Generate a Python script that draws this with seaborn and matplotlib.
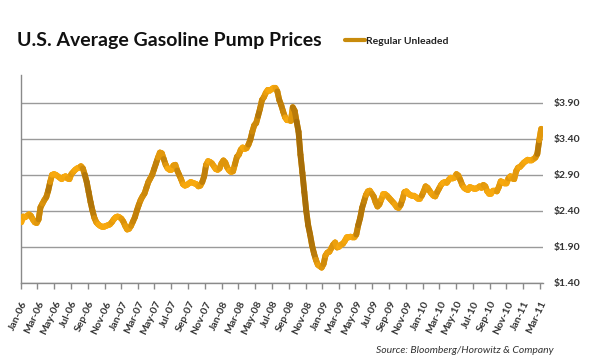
import numpy as np
import pandas as pd
import matplotlib
matplotlib.use("Agg")
import matplotlib.pyplot as plt
import matplotlib.dates as mdates
from matplotlib.collections import LineCollection
from matplotlib.colors import LinearSegmentedColormap
import seaborn as sns

# weekly regular unleaded price ($/gal), Mondays from 2 Jan 2006
prices_2006 = [2.24, 2.32, 2.31, 2.33, 2.35,
               2.33, 2.28, 2.24, 2.23,
               2.28, 2.45, 2.50, 2.55,
               2.59, 2.68, 2.80, 2.90,
               2.91, 2.90, 2.88, 2.86, 2.84,
               2.87, 2.88, 2.85, 2.84,
               2.91, 2.94, 2.97, 2.99, 3.00,
               3.02, 2.99, 2.90, 2.80,
               2.66, 2.52, 2.40, 2.30,
               2.24, 2.21, 2.19, 2.18, 2.18,
               2.19, 2.20, 2.21, 2.24,
               2.28, 2.31, 2.32, 2.31]
prices_2007 = [2.29, 2.25, 2.19, 2.14, 2.15,
               2.19, 2.25, 2.31, 2.40,
               2.48, 2.55, 2.60, 2.64,
               2.72, 2.80, 2.85, 2.90, 2.98,
               3.06, 3.14, 3.21, 3.20,
               3.12, 3.04, 2.99, 2.97,
               2.97, 3.03, 3.04, 2.96, 2.90,
               2.84, 2.77, 2.75, 2.76,
               2.78, 2.80, 2.79, 2.78,
               2.77, 2.74, 2.75, 2.80, 2.88,
               3.04, 3.09, 3.08, 3.06,
               3.02, 2.98, 2.97, 2.99, 3.06]
prices_2008 = [3.10, 3.07, 3.00, 2.96,
               2.94, 2.95, 3.05, 3.15,
               3.18, 3.25, 3.28, 3.26, 3.27,
               3.32, 3.39, 3.50, 3.59,
               3.62, 3.72, 3.82, 3.94,
               3.98, 4.04, 4.08, 4.07, 4.09,
               4.11, 4.11, 4.06, 3.94,
               3.87, 3.78, 3.70, 3.66,
               3.66, 3.65, 3.84, 3.79, 3.64,
               3.50, 3.18, 2.93, 2.66,
               2.40, 2.20, 2.07, 1.92,
               1.81, 1.72, 1.65, 1.63, 1.61]
prices_2009 = [1.66, 1.78, 1.82, 1.83,
               1.88, 1.93, 1.96, 1.89,
               1.90, 1.93, 1.94, 1.98, 2.03,
               2.03, 2.04, 2.03, 2.03,
               2.07, 2.20, 2.30, 2.44,
               2.53, 2.62, 2.67, 2.68, 2.64,
               2.60, 2.52, 2.46, 2.49,
               2.56, 2.63, 2.63, 2.61, 2.58,
               2.55, 2.52, 2.49, 2.45,
               2.44, 2.48, 2.56, 2.66,
               2.67, 2.64, 2.62, 2.61, 2.61,
               2.59, 2.57, 2.57, 2.61]
prices_2010 = [2.67, 2.74, 2.72, 2.68,
               2.64, 2.61, 2.60, 2.66,
               2.71, 2.76, 2.79, 2.80, 2.79,
               2.83, 2.86, 2.85, 2.86,
               2.91, 2.89, 2.83, 2.76, 2.72,
               2.70, 2.69, 2.73, 2.72,
               2.71, 2.71, 2.72, 2.74,
               2.72, 2.76, 2.74, 2.67, 2.64,
               2.64, 2.68, 2.68, 2.67,
               2.73, 2.81, 2.80, 2.78,
               2.78, 2.85, 2.88, 2.85, 2.84,
               2.95, 3.00, 3.01, 3.04]
prices_2011 = [3.07, 3.09, 3.11, 3.10, 3.10,
               3.12, 3.14, 3.19, 3.38,
               3.54]

prices = prices_2006 + prices_2007 + prices_2008 + prices_2009 + prices_2010 + prices_2011
weeks = pd.date_range("2006-01-02", periods=len(prices), freq="7D")
df = pd.DataFrame({"week": weeks, "price": prices})

title = "U.S. Average Gasoline Pump Prices"
series_name = "Regular Unleaded"
source = "Source: Bloomberg/Horowitz & Company"
yticks = [1.40, 1.90, 2.40, 2.90, 3.40, 3.90]

sns.set_theme(style="white")
plt.rcParams["font.family"] = ["Lato", "DejaVu Sans"]

fig = plt.figure(figsize=(6.1, 3.64), dpi=100)
ax = fig.add_axes([0.0344, 0.2233, 0.855, 0.571])

sns.lineplot(data=df, x="week", y="price", ax=ax, color="#F2A40C", lw=4.2,
             label=series_name, solid_capstyle="round", solid_joinstyle="round")

ax.set_xlim(pd.Timestamp("2006-01-01"), pd.Timestamp("2011-03-12"))
ax.set_ylim(1.40, 4.29)

# shade the line like the original: steep stretches turn brown
xs = mdates.date2num(df["week"])
pts = ax.transData.transform(np.column_stack([xs, df["price"].values]))
d = np.diff(pts, axis=0)
steep = np.arctan2(np.abs(d[:, 1]), np.abs(d[:, 0])) / (np.pi / 2)
steep = np.convolve(steep, np.ones(3) / 3, mode="same")
shade = np.clip((steep - 0.40) / 0.5, 0, 1) * 0.9
cmap = LinearSegmentedColormap.from_list("gold", ["#F8A90E", "#DA920B", "#9A6508"])
data_pts = np.column_stack([xs, df["price"].values])
segs = np.stack([data_pts[:-1], data_pts[1:]], axis=1)
lc = LineCollection(segs, colors=cmap(shade), linewidths=4.2,
                    capstyle="round", joinstyle="round", zorder=3)
ax.add_collection(lc)

# axes styling
ax.set_yticks(yticks)
ax.yaxis.tick_right()
ax.yaxis.set_major_formatter(plt.FuncFormatter(lambda v, p: f"${v:.2f}"))
ax.tick_params(axis="y", length=0, pad=8, labelsize=7.5, labelcolor="#333333")
for t in ax.get_yticklabels():
    t.set_fontweight("bold")
ax.yaxis.grid(True, color="#9A9A9A", lw=1)
ax.xaxis.grid(False)

ax.xaxis.set_major_locator(mdates.MonthLocator(bymonth=[1, 3, 5, 7, 9, 11]))
ax.xaxis.set_major_formatter(mdates.DateFormatter("%b-%y"))
ax.tick_params(axis="x", direction="out", length=4, width=1, color="#8A8A8A",
               labelsize=7.5, labelcolor="#333333", pad=8, bottom=True)
for t in ax.get_xticklabels():
    t.set_rotation(65)
    t.set_ha("right")
    t.set_rotation_mode("anchor")
    t.set_fontweight("bold")

for side in ["top", "right"]:
    ax.spines[side].set_visible(False)
for side in ["left", "bottom"]:
    ax.spines[side].set_color("#8A8A8A")
    ax.spines[side].set_linewidth(1)
ax.set_xlabel("")
ax.set_ylabel("")

leg = ax.legend(loc="center left", bbox_to_anchor=(0.557, 0.887), bbox_transform=fig.transFigure,
                frameon=False, handlelength=1.9, handletextpad=0.1, borderpad=0,
                prop={"size": 7.5, "weight": "bold"})
for t in leg.get_texts():
    t.set_color("#222222")
for h in leg.get_lines():
    h.set_color("#C88B0C")
    h.set_linewidth(3)

fig.text(0.028, 0.89, title, fontsize=14, fontweight="bold", color="#111111", va="center")
fig.text(0.907, 0.038, source, fontsize=7.5, style="italic", color="#333333", ha="right", va="center")

fig.savefig("out.png", dpi=100)
